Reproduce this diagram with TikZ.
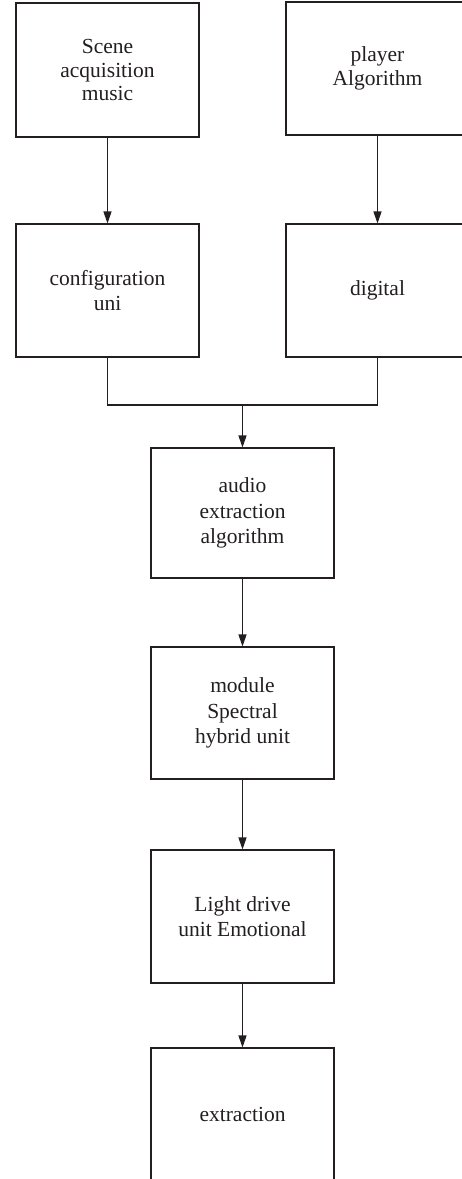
\documentclass[tikz,border=0pt]{standalone}
\usepackage{fontspec}
\setmainfont{Liberation Serif}
\usetikzlibrary{arrows.meta}
\definecolor{ink}{HTML}{231F20}
\tikzset{
  block/.style={draw=ink, line width=1.1pt, minimum width=183pt, inner sep=0pt,
    text=ink, align=center, font=\fontsize{21.5}{25.5}\selectfont},
  tight/.style={font=\fontsize{21.5}{23.5}\selectfont},
  link/.style={draw=ink, line width=1.2pt},
  flow/.style={link, -{Triangle[length=12pt,width=8pt]}}
}
\begin{document}
\begin{tikzpicture}[x=1pt, y=-1pt]
  \useasboundingbox (0,0) rectangle (462,1179);
  \fill[white] (0,0) rectangle (462,1179);
  \clip (0,0) rectangle (462,1179);

  % top row: two sources
  \node[block, tight, minimum height=134pt] (scene) at (107.5,70) {Scene\\acquisition\\music};
  \node[block, tight, minimum height=133pt] (player) at (377.5,68.5) {player\\Algorithm};

  % second row
  \node[block, minimum height=133pt] (config) at (107.5,290.5) {configuration\\uni};
  \node[block, minimum height=133pt] (digital) at (377.5,290.5) {digital};

  % main chain
  \node[block, minimum height=130pt] (audio) at (242.5,513) {audio\\extraction\\algorithm};
  \node[block, minimum height=132pt] (module) at (242.5,713) {module\\Spectral\\hybrid unit};
  \node[block, minimum height=133pt] (light) at (242.5,916.5) {Light drive\\unit Emotional};
  \node[block, minimum height=133pt] (extract) at (242.5,1114.5) {extraction};

  % junction where the two branches meet
  \coordinate (join) at (242.5,405);

  \draw[flow] (scene) -- (config);
  \draw[flow] (player) -- (digital);
  \draw[link] (config.south) |- (join);
  \draw[link] (digital.south) |- (join);
  \draw[flow] (join) -- (audio.north);
  \draw[flow] (audio) -- (module);
  \draw[flow] (module) -- (light);
  \draw[flow] (light) -- (extract);
\end{tikzpicture}
\end{document}
